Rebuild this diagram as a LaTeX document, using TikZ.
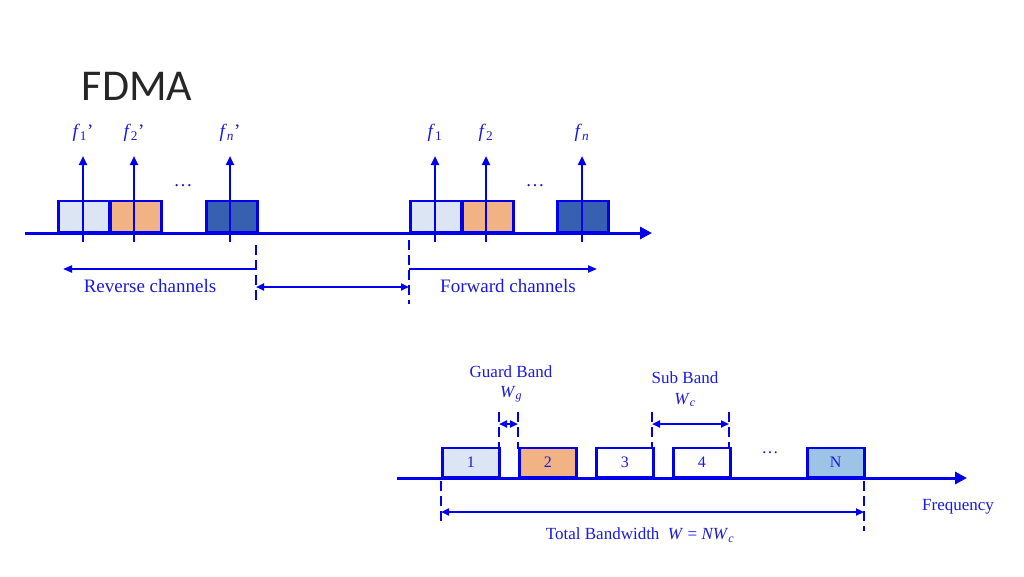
\documentclass[tikz,border=0pt]{standalone}
\usepackage{fontspec}
\setmainfont{Liberation Serif}
\newfontfamily\titlefont{Carlito}
\usetikzlibrary{arrows.meta}

\definecolor{lineblue}{RGB}{0,0,235}
\definecolor{textblue}{RGB}{25,25,225}
\definecolor{paleblue}{RGB}{220,229,244}
\definecolor{peach}{RGB}{241,178,132}
\definecolor{deepblue}{RGB}{56,96,176}
\definecolor{skyblue}{RGB}{157,195,230}

\newcommand{\itsub}[2]{\textit{#1}\textsubscript{#2}}

\tikzset{
  chan/.style={draw=lineblue, line width=2.5pt, minimum width=51pt, minimum height=31pt,
    inner sep=0pt, anchor=south west, text=textblue, font=\fontsize{16}{16}\selectfont},
  band/.style={chan, minimum width=57pt, minimum height=29pt},
  axis/.style={draw=lineblue, line width=3pt, -{Triangle[length=12pt,width=12pt]}},
  carrier/.style={draw=lineblue, line width=2.2pt, -{Triangle[length=9pt,width=8pt]}},
  span/.style={draw=lineblue, line width=2pt, -{Triangle[length=9pt,width=7pt]}},
  twospan/.style={draw=lineblue, line width=2pt, {Triangle[length=8pt,width=7pt]}-{Triangle[length=8pt,width=7pt]}},
  marker/.style={draw=lineblue, line width=2.5pt, dash pattern=on 10pt off 5pt},
  lbl/.style={text=textblue, inner sep=0pt, font=\fontsize{19}{19}\selectfont},
  small lbl/.style={lbl, font=\fontsize{17}{17}\selectfont},
}

\begin{document}
\begin{tikzpicture}[x=1pt, y=-1pt]
    % page frame 1024x576
    \useasboundingbox (0,0) rectangle (1024,576);

    % title
    \node[inner sep=0pt, text={rgb,255:red,38;green,38;blue,38}, font=\titlefont\fontsize{44}{44}\selectfont] (title) at (137,86) {FDMA};

    %%% upper picture: reverse and forward channels
    \coordinate (topstart) at (25,233);
    \coordinate (topend) at (652,233);
    \draw[axis] (topstart) -- (topend);

    % channel boxes
    \node[chan, fill=paleblue] (rbox1) at (57,233) {};
    \node[chan, fill=peach] (rbox2) at (109,233) {};
    \node[chan, fill=deepblue] (rboxn) at (205,233) {};
    \node[chan, fill=paleblue] (fbox1) at (409,233) {};
    \node[chan, fill=peach] (fbox2) at (461,233) {};
    \node[chan, fill=deepblue] (fboxn) at (556,233) {};

    % carriers
    \foreach \x/\n/\lab in {83/r1/{\itsub{f}{1}\textquoteright}, 134/r2/{\itsub{f}{2}\textquoteright}, 230/rn/{\itsub{f}{\textit{n}}\textquoteright},
                            435/f1/{\itsub{f}{1}}, 486/f2/{\itsub{f}{2}}, 582/fn/{\itsub{f}{\textit{n}}}} {
        \coordinate (\n foot) at (\x,242);
        \coordinate (\n tip) at (\x,156);
        \node[lbl] (\n lab) at (\x,133) {\lab};
        \draw[carrier] (\n foot) -- (\n tip);
    }

    \node[lbl] (rdots) at (183,186) {\dots};
    \node[lbl] (fdots) at (535,186) {\dots};

    % band edges
    \coordinate (redgetop) at (256,245);
    \coordinate (redgebot) at (256,304);
    \coordinate (fedgetop) at (409,240);
    \coordinate (fedgebot) at (409,304);
    \draw[marker] (redgetop) -- (redgebot);
    \draw[marker] (fedgetop) -- (fedgebot);

    % spans
    \coordinate (rspanR) at (256,269);
    \coordinate (rspanL) at (63,269);
    \coordinate (fspanL) at (409,269);
    \coordinate (fspanR) at (597,269);
    \coordinate (gapL) at (256,287);
    \coordinate (gapR) at (409,287);
    \draw[span] (rspanR) -- (rspanL);
    \draw[span] (fspanL) -- (fspanR);
    \draw[twospan] (gapL) -- (gapR);

    \node[lbl] (revtext) at (150,286) {Reverse channels};
    \node[lbl] (fwdtext) at (508,286) {Forward channels};

    %%% lower picture: sub bands and guard bands
    \coordinate (botstart) at (397,478);
    \coordinate (botend) at (967,478);
    \draw[axis] (botstart) -- (botend);

    \node[band, fill=paleblue] (sb1) at (441,478) {1};
    \node[band, fill=peach] (sb2) at (518,478) {2};
    \node[band, fill=white] (sb3) at (595,478) {3};
    \node[band, fill=white] (sb4) at (672,478) {4};
    \node[band, fill=skyblue] (sbN) at (806,478) {N};
    \node[small lbl] (bdots) at (770,453) {\dots};

    % edges above the boxes
    \foreach \x/\n in {499/ga, 518/gb, 652/sa, 729/sb} {
        \coordinate (\n top) at (\x,412);
        \coordinate (\n bot) at (\x,449);
        \draw[marker] (\n top) -- (\n bot);
    }
    % edges below the axis
    \coordinate (totLtop) at (441,481);
    \coordinate (totLbot) at (441,523);
    \coordinate (totRtop) at (864,481);
    \coordinate (totRbot) at (864,531);
    \draw[marker] (totLtop) -- (totLbot);
    \draw[marker] (totRtop) -- (totRbot);

    \coordinate (gspanL) at (499,424);
    \coordinate (gspanR) at (518,424);
    \coordinate (sspanL) at (652,424);
    \coordinate (sspanR) at (729,424);
    \coordinate (tspanL) at (441,512);
    \coordinate (tspanR) at (864,512);
    \draw[twospan] (gspanL) -- (gspanR);
    \draw[twospan] (sspanL) -- (sspanR);
    \draw[twospan] (tspanL) -- (tspanR);

    \node[small lbl] (guardtext) at (511,372) {Guard Band};
    \node[small lbl] (wg) at (511,394) {\itsub{W}{\textit{g}}};
    \node[small lbl] (subtext) at (685,378) {Sub Band};
    \node[small lbl] (wc) at (685,400) {\itsub{W}{\textit{c}}};
    \node[small lbl] (freq) at (958,507) {Frequency};
    \node[small lbl] (total) at (640,535) {Total Bandwidth\enspace\textit{W} = \itsub{NW}{\textit{c}}};
\end{tikzpicture}
\end{document}
